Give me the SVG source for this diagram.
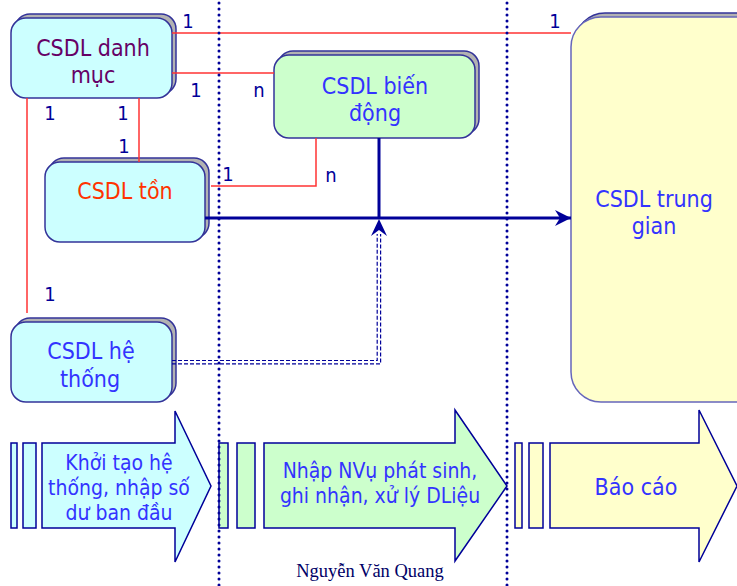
<svg xmlns="http://www.w3.org/2000/svg" width="737" height="586" viewBox="0 0 737 586">
  <style>
    .shadow { fill: #B2B2B2; stroke: #333399; stroke-width: 1.5; }
    .box { stroke: #333399; stroke-width: 1.5; }
    .cyan { fill: #CCFFFF; }
    .green { fill: #CCFFCC; }
    .yellow { fill: #FFFFCC; }
    .lbl { font-family: "DejaVu Sans Condensed", "DejaVu Sans", Verdana, sans-serif; font-stretch: condensed; font-size: 23px; text-anchor: middle; fill: #3333FF; }
    .step { font-family: "DejaVu Sans Condensed", "DejaVu Sans", Verdana, sans-serif; font-stretch: condensed; font-size: 21px; text-anchor: middle; fill: #3333FF; }
    .card { font-family: "DejaVu Sans Condensed", "DejaVu Sans", Verdana, sans-serif; font-stretch: condensed; font-size: 20px; text-anchor: middle; fill: #000099; }
    .rel { fill: none; stroke: #FF3333; stroke-width: 1.5; }
    .flow { fill: none; stroke: #000099; stroke-width: 3; }
    .ctl { fill: none; stroke: #000099; stroke-width: 1.2; stroke-dasharray: 4 2; }
    .divider { stroke: #000099; stroke-width: 3; stroke-linecap: round; stroke-dasharray: 0 6; }
    .arrowbox { stroke: #000099; stroke-width: 1.5; }
  </style>
  <defs>
    <marker id="head" markerUnits="userSpaceOnUse" markerWidth="18" markerHeight="18" refX="16" refY="8" orient="auto">
      <path d="M0,0 L16,8 L0,16 L5,8 Z" fill="#000099"/>
    </marker>
  </defs>

  <rect width="737" height="586" fill="#FFFFFF"/>

  <!-- process steps along the bottom -->
  <g id="step-init">
    <rect class="arrowbox cyan" x="11" y="443" width="6" height="85"/>
    <rect class="arrowbox cyan" x="23" y="443" width="13" height="85"/>
    <path class="arrowbox cyan" d="M42,443 H175 V411 L211,486 L175,562 V528 H42 Z"/>
    <text class="step" x="119" y="470">Khởi tạo hệ</text>
    <text class="step" x="119" y="495">thống, nhập số</text>
    <text class="step" x="119" y="520">dư ban đầu</text>
  </g>
  <g id="step-process">
    <rect class="arrowbox green" x="219" y="443" width="9" height="85"/>
    <rect class="arrowbox green" x="237" y="443" width="18" height="85"/>
    <path class="arrowbox green" d="M264,443 H455 V410 L507,486 L455,561 V528 H264 Z"/>
    <text class="step" x="380" y="478">Nhập NVụ phát sinh,</text>
    <text class="step" x="380" y="503">ghi nhận, xử lý DLiệu</text>
  </g>
  <g id="step-report">
    <rect class="arrowbox yellow" x="515" y="443" width="7" height="85"/>
    <rect class="arrowbox yellow" x="529" y="443" width="14" height="85"/>
    <path class="arrowbox yellow" d="M550,443 H699 V410 L737,486 L699,562 V528 H550 Z"/>
    <text class="step" x="636" y="495" style="font-size:23px">Báo cáo</text>
  </g>

  <!-- databases -->
  <g id="db-danh-muc">
    <rect class="shadow" x="15" y="14" width="161" height="80" rx="15"/>
    <rect class="box cyan" x="11" y="18" width="161" height="80" rx="15"/>
    <text class="lbl" x="93" y="56" style="fill:#660066">CSDL danh</text>
    <text class="lbl" x="93" y="83" style="fill:#660066">mục</text>
  </g>
  <g id="db-ton">
    <rect class="shadow" x="49" y="158" width="160" height="80" rx="15"/>
    <rect class="box cyan" x="45" y="162" width="160" height="80" rx="15"/>
    <text class="lbl" x="125" y="199" style="fill:#FF3300">CSDL tồn</text>
  </g>
  <g id="db-he-thong">
    <rect class="shadow" x="15" y="318" width="161" height="80" rx="15"/>
    <rect class="box cyan" x="11" y="322" width="161" height="80" rx="15"/>
    <text class="lbl" x="91" y="359">CSDL hệ</text>
    <text class="lbl" x="90" y="387">thống</text>
  </g>
  <g id="db-bien-dong">
    <rect class="shadow" x="278" y="51" width="201" height="83" rx="15"/>
    <rect class="box green" x="274" y="55" width="201" height="83" rx="15"/>
    <text class="lbl" x="375" y="94">CSDL biến</text>
    <text class="lbl" x="375" y="121">động</text>
  </g>
  <g id="db-trung-gian">
    <rect class="shadow" x="575" y="13" width="200" height="385" rx="30"/>
    <rect class="box yellow" x="571" y="17" width="200" height="385" rx="30" style="stroke:#6666BB"/>
    <text class="lbl" x="654" y="207">CSDL trung</text>
    <text class="lbl" x="654" y="234">gian</text>
  </g>

  <!-- connectors -->
  <g id="connectors">
    <polyline class="rel" points="172,33 571,33"/>
    <polyline class="rel" points="172,73 274,73"/>
    <polyline class="rel" points="27,98 27,313"/>
    <polyline class="rel" points="139,98 139,162"/>
    <polyline class="rel" points="211,186 316,186 316,138"/>

    <line class="flow" x1="205" y1="218" x2="571" y2="218" marker-end="url(#head)"/>
    <line class="flow" x1="379" y1="138" x2="379" y2="218"/>

    <polyline class="ctl" points="172,360.5 377.2,360.5 377.2,234"/>
    <polyline class="ctl" points="172,363.8 380.6,363.8 380.6,234"/>
    <path d="M379,219 L387,236 L379,230 L371,236 Z" fill="#000099"/>

    <text class="card" x="188" y="28">1</text>
    <text class="card" x="555" y="28">1</text>
    <text class="card" x="196" y="97">1</text>
    <text class="card" x="259" y="97">n</text>
    <text class="card" x="50" y="120">1</text>
    <text class="card" x="123" y="120">1</text>
    <text class="card" x="124" y="153">1</text>
    <text class="card" x="228" y="181">1</text>
    <text class="card" x="331" y="182">n</text>
    <text class="card" x="50" y="301">1</text>
  </g>

  <!-- phase dividers -->
  <g id="dividers">
    <line class="divider" x1="219" y1="3" x2="219" y2="586"/>
    <line class="divider" x1="507" y1="3" x2="507" y2="586"/>
  </g>

  <text x="370" y="577" font-family="'Liberation Serif', 'Times New Roman', serif" font-size="18.5" text-anchor="middle" fill="#000066">Nguyễn Văn Quang</text>
</svg>
